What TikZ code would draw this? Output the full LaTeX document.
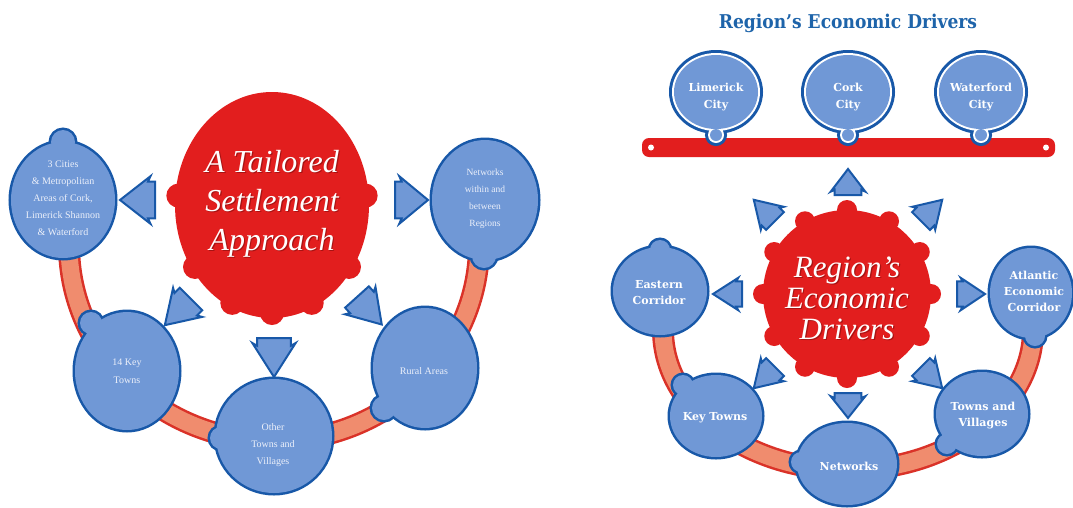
\documentclass[tikz,border=0pt]{standalone}
\usepackage{fontspec}
\usetikzlibrary{calc}
\newfontfamily\plainserif{Liberation Serif}
\newfontfamily\slabfont{DejaVu Serif}
\newfontfamily\titlefont{DejaVu Serif Condensed}

\definecolor{bluefill}{RGB}{112,152,214}
\definecolor{bluedark}{RGB}{24,88,168}
\definecolor{blobred}{RGB}{226,30,30}
\definecolor{bandfill}{RGB}{240,140,110}
\definecolor{bandedge}{RGB}{218,50,40}
\definecolor{titleblue}{RGB}{30,100,170}
\definecolor{paletext}{RGB}{236,240,250}
\definecolor{shadowred}{RGB}{120,10,10}

\tikzset{
  band/.style={line width=22pt, draw=bandedge},
  bandinner/.style={line width=17pt, draw=bandfill},
  arrowshape/.style={fill=bluefill, draw=bluedark, line width=2pt, line join=miter},
  lefttxt/.style={text=paletext, align=center, font=\plainserif\fontsize{10}{17}\selectfont},
  righttxt/.style={text=white, align=center, font=\slabfont\bfseries\fontsize{11}{16}\selectfont},
  blobtxt/.style={text=white, align=center},
  blobshadow/.style={text=shadowred, text opacity=0.55, align=center},
}

% balloon: ellipse with a small round bump, outlined as one shape
\newcommand{\balloon}[7]{%
  \path[draw=bluedark, line width=5pt] (#1,#2) ellipse [x radius=#3, y radius=#4] (#5,#6) circle [radius=#7];
  \path[fill=bluefill] (#1,#2) ellipse [x radius=#3, y radius=#4] (#5,#6) circle [radius=#7];
}
% city balloon with a white ring inside the dark outline
\newcommand{\citybal}[2]{%
  \path[draw=bluedark, line width=6pt] (#1,#2) ellipse [x radius=44, y radius=39] (#1,135) circle [radius=8];
  \path[fill=white] (#1,#2) ellipse [x radius=44, y radius=39] (#1,135) circle [radius=8];
  \path[fill=bluefill] (#1,#2) ellipse [x radius=42, y radius=37] (#1,135) circle [radius=6];
}
% block arrow: tail x, tail y, direction, length, width
\newcommand{\farrow}[5]{%
  \draw[arrowshape]
    ($(#1,#2)+(#3+90:0.42*#5)$) --
    ($(#1,#2)+(#3:0.2*#4)+(#3+90:0.42*#5)$) --
    ($(#1,#2)+(#3:0.13*#4)+(#3+90:0.54*#5)$) --
    ($(#1,#2)+(#3:#4)$) --
    ($(#1,#2)+(#3:0.13*#4)+(#3-90:0.54*#5)$) --
    ($(#1,#2)+(#3:0.2*#4)+(#3-90:0.42*#5)$) --
    ($(#1,#2)+(#3-90:0.42*#5)$) -- cycle;
}

\begin{document}
\begin{tikzpicture}[x=1pt,y=-1pt]
\useasboundingbox (0,0) rectangle (1073,507);
\fill[white] (0,0) rectangle (1073,507);

% ---------------- left diagram ----------------
% ring joining the outer settlement types
\draw[band] (274,245) ++(180:205 and 196) arc [start angle=180, end angle=0, x radius=205, y radius=196];
\draw[bandinner] (274,245) ++(180:205 and 196) arc [start angle=180, end angle=0, x radius=205, y radius=196];

\balloon{63}{200}{52}{58}{63}{142}{12}
\balloon{485}{200}{53}{60}{484}{256}{12}
\balloon{127}{371}{52}{59}{91}{323}{11}
\balloon{274}{436}{58}{57}{221}{438}{11}
\balloon{425}{368}{52}{60}{384}{408}{12}

% central blob
\fill[blobred] (272,205) ellipse [x radius=97, y radius=113];
\foreach \a in {-5,35,65,90,115,145,185}
  \fill[blobred] ($(272,205)+(\a:94 and 108)$) circle [radius=12];

\node[blobshadow, font=\plainserif\itshape\fontsize{32}{39}\selectfont] (lshadow) at (273.2,205.2) {A Tailored\\Settlement\\Approach};
\node[blobtxt, font=\plainserif\itshape\fontsize{32}{39}\selectfont] (lcore) at (272,204) {A Tailored\\Settlement\\Approach};

\farrow{155}{200}{180}{35}{44}
\farrow{395}{200}{0}{33}{44}
\farrow{191}{299}{135}{37}{38}
\farrow{274}{338}{90}{39}{40}
\farrow{357}{297}{48}{37}{38}

\node[lefttxt] (cities) at (63,198) {3 Cities\\\&~Metropolitan\\Areas of Cork,\\Limerick Shannon\\\&~Waterford};
\node[lefttxt, font=\plainserif\fontsize{9.5}{17}\selectfont] (netw) at (485,199) {Networks\\within and\\between\\Regions};
\node[lefttxt, font=\plainserif\fontsize{10}{18}\selectfont] (keyt) at (127,371) {14 Key\\Towns};
\node[lefttxt] (other) at (273,445) {Other\\Towns and\\Villages};
\node[lefttxt] (rural) at (424,371) {Rural Areas};

% ---------------- right diagram ----------------
\node[text=titleblue, font=\titlefont\bfseries\fontsize{19}{22}\selectfont] (title) at (848,23) {Region’s Economic Drivers};

\fill[blobred] (642,138) [rounded corners=7pt] rectangle (1055,157);
\fill[white] (651,147.5) circle [radius=3];
\fill[white] (1046,147.5) circle [radius=3];

\citybal{716}{92}
\citybal{848}{92}
\citybal{981}{92}
\node[righttxt, font=\slabfont\bfseries\fontsize{11}{17}\selectfont] (lim) at (716,97) {Limerick\\City};
\node[righttxt, font=\slabfont\bfseries\fontsize{11}{17}\selectfont] (cork) at (848,97) {Cork\\City};
\node[righttxt, font=\slabfont\bfseries\fontsize{11}{17}\selectfont] (wat) at (981,97) {Waterford\\City};

\draw[band] (848,330) ++(180:185 and 140) arc [start angle=180, end angle=0, x radius=185, y radius=140];
\draw[bandinner] (848,330) ++(180:185 and 140) arc [start angle=180, end angle=0, x radius=185, y radius=140];

\balloon{660}{291}{47}{44}{660}{250}{10}
\balloon{1031}{293}{41}{45}{1035}{336}{10}
\balloon{716}{416}{46}{41}{683}{385}{10}
\balloon{847}{464}{50}{41}{801}{462}{10}
\balloon{982}{414}{46}{42}{947}{444}{10}

% central blob with rounded teeth
\fill[blobred] (847,294) circle [radius=84];
\foreach \a in {0,30,...,330}
  \fill[blobred] ($(847,294)+(\a:84)$) circle [radius=10];

\node[blobshadow, font=\plainserif\itshape\fontsize{31}{31}\selectfont] (rshadow) at (848.2,299.2) {Region’s\\Economic\\Drivers};
\node[blobtxt, font=\plainserif\itshape\fontsize{31}{31}\selectfont] (rcore) at (847,298) {Region’s\\Economic\\Drivers};

\farrow{848}{195}{270}{26}{32}
\farrow{848}{393}{90}{25}{32}
\farrow{742}{294}{180}{29}{30}
\farrow{957}{294}{0}{28}{30}
\farrow{775}{221}{225}{30}{30}
\farrow{921}{221}{315}{30}{30}
\farrow{775}{367}{135}{30}{30}
\farrow{921}{367}{45}{30}{30}

\node[righttxt] (east) at (659,293) {Eastern\\Corridor};
\node[righttxt] (atl) at (1034,291) {Atlantic\\Economic\\Corridor};
\node[righttxt] (keytr) at (715,418) {Key Towns};
\node[righttxt] (netr) at (849,466) {Networks};
\node[righttxt] (tv) at (983,416) {Towns and\\Villages};
\end{tikzpicture}
\end{document}
